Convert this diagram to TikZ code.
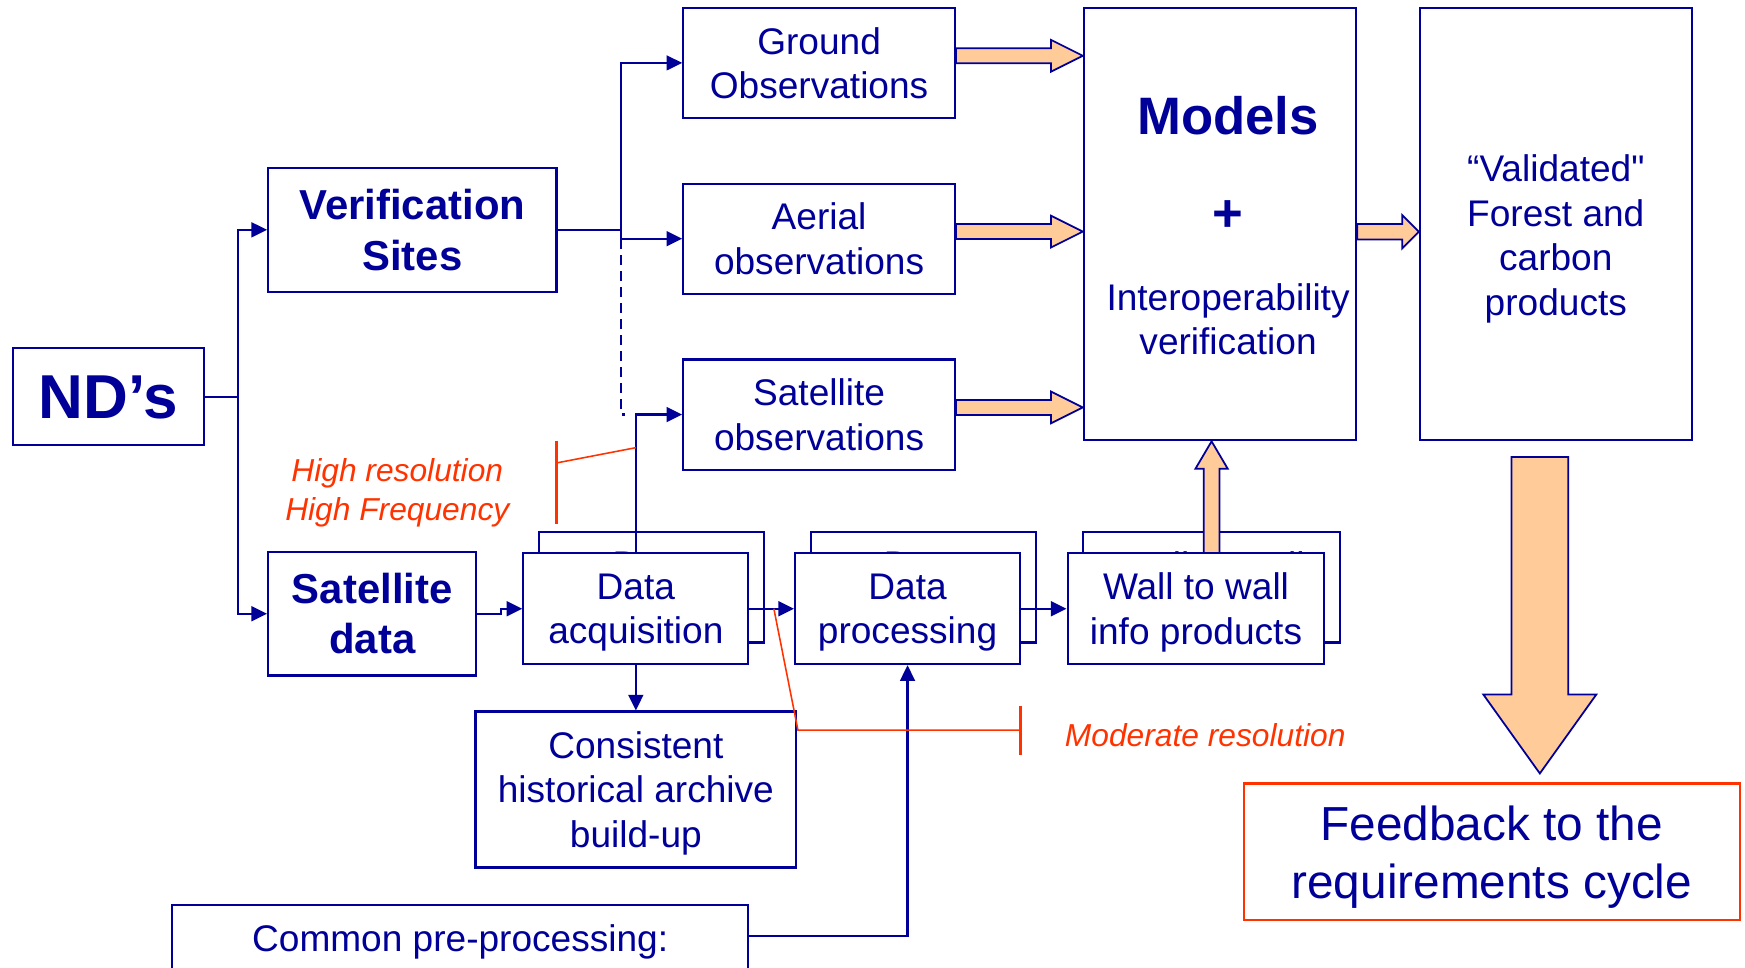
\documentclass[tikz,border=0pt]{standalone}
\usepackage{fontspec}
\setmainfont[Ligatures=TeXOff]{Liberation Sans}
\usepackage{xcolor}
\usepackage{tikz}
\usetikzlibrary{calc}
\usetikzlibrary{arrows.meta}
\definecolor{navy}{RGB}{0,0,153}
\definecolor{annot}{RGB}{255,51,0}
\definecolor{peach}{RGB}{255,204,153}
\tikzstyle{arrow} = [navy, line width=0.55pt, -{Triangle[length=4pt,width=3.8pt]}]
\tikzstyle{wire} = [navy, line width=0.55pt]
\tikzstyle{fat} = [draw=navy, fill=peach, line width=0.45pt, line join=miter]
\newcommand{\txtnormal}{\fontsize{9.47}{11.38}\selectfont}
\newcommand{\txtbold}{\fontsize{10.7}{12.8}\selectfont\bfseries}
\newcommand{\txtnd}{\fontsize{15.85}{19}\selectfont\bfseries}
\newcommand{\txtmodels}{\fontsize{13.46}{16}\selectfont\bfseries}
\newcommand{\txtnote}{\fontsize{8.11}{9.96}\selectfont\itshape}
\newcommand{\txtfeed}{\fontsize{12.2}{14.8}\selectfont}
% wide block arrow: tail, tip, half shaft, half head, head length
\newcommand{\fatarr}[5]{%
  \coordinate (hb) at ($(#2)!#5*0.01cm!(#1)$);
  \draw[fat] ($(#1)!#3*0.01cm!90:(#2)$) -- ($(hb)!#3*0.01cm!90:(#2)$) -- ($(hb)!#4*0.01cm!90:(#2)$)
    -- (#2) -- ($(hb)!#4*0.01cm!-90:(#2)$) -- ($(hb)!#3*0.01cm!-90:(#2)$) -- ($(#1)!#3*0.01cm!-90:(#2)$) -- cycle;
}
\begin{document}
\begin{tikzpicture}[x=0.01cm, y=-0.01cm,
				blk/.style= {draw=navy, line width=0.55pt, fill=white, text=navy, inner sep=0pt, align=center, text depth=0pt, font=\txtnormal},
				obsblk/.style= {blk, minimum width=2.44cm, minimum height=0.99cm},
				tallblk/.style= {blk, minimum width=2.445cm, minimum height=3.88cm},
				stackblk/.style= {blk, minimum width=2.02cm, minimum height=0.995cm},
				boxtext/.style= {text=navy, inner sep=0pt, align=center, font=\txtnormal},
				notetext/.style= {text=annot, inner sep=0pt, align=center, font=\txtnote},
				redbar/.style= {annot, line width=0.6pt},
				redline/.style= {annot, line width=0.4pt}
			]
			\useasboundingbox (0,0) rectangle (1568,869);
			\clip (0,0) rectangle (1568,869);
			
			\node (nds) [blk, font=\txtnd, minimum width=1.72cm, minimum height=0.87cm] at (97.5, 356.5) {ND’s};
			\node (verif) [blk, font=\txtbold, minimum width=2.59cm, minimum height=1.11cm] at (370.5, 206.5) {Verification\\Sites};
			\node (satdata) [blk, font=\txtbold, minimum width=1.87cm, minimum height=1.11cm] at (334.5, 551.5) {Satellite\\data};
			
			\node (ground) [obsblk] at (736, 56.5) {Ground\\Observations};
			\node (aerial) [obsblk] at (736, 214.5) {Aerial\\observations};
			\node (satobs) [obsblk] at (736, 372.5) {Satellite\\observations};
			
			\node (models) [tallblk] at (1096.25, 201.5) {};
			\node (modtitle) [boxtext, font=\txtmodels] at (1103.5, 103.5) {Models};
			\node (plus) [boxtext, font=\txtmodels] at (1103.5, 194.4) {+};
			\node (interop) [boxtext] at (1103.5, 287) {Interoperability\\verification};
			\node (valid) [tallblk] at (1398.25, 201.5) {};
			\node (validtext) [boxtext] at (1398, 214.5) {“Validated"\\Forest and\\carbon\\products};
			
			% stacked blocks, back copies first
			\node (dacqback) [stackblk] at (585.7, 527.6) {Data\\acquisition};
			\node (dprocback) [stackblk] at (829.5, 527.6) {Data\\processing};
			\node (wallback) [stackblk, minimum width=2.306cm] at (1088.7, 527.6) {Wall to wall\\info products};
			\coordinate (w1) at ($(wallback.north)+(0,20)$);
			\coordinate (w2) at (wallback.north |- models.south);
			\fatarr{w1}{w2}{7}{14.5}{24.6}
			\node (dacq) [stackblk] at (571.35, 547) {Data\\acquisition};
			\node (dproc) [stackblk] at (815.5, 547) {Data\\processing};
			\node (wall) [stackblk, minimum width=2.306cm] at (1074.7, 547) {Wall to wall\\info products};
			
			\node (archive) [blk, minimum width=2.88cm, minimum height=1.40cm] at (571.35, 709.4) {Consistent\\historical archive\\build-up};
			\node (common) [blk, anchor=north, minimum width=5.17cm, text height=0.42cm, text depth=0.4cm] at (413.5, 812) {Common pre-processing:};
			\node (feedback) [blk, draw=annot, font=\txtfeed, minimum width=4.45cm, minimum height=1.23cm] at (1340.5, 765.5) {Feedback to the\\requirements cycle};
			
			\draw [arrow] (nds.east) -- ++(29,0) |- (verif.west);
			\draw [arrow] (nds.east) -- ++(29,0) |- (satdata.west);
			
			\coordinate (vsplit) at ($(verif.east)+(57,0)$);
			\draw [wire] (verif.east) -- (vsplit);
			\draw [arrow] (vsplit) |- (ground.west);
			\draw [arrow] (vsplit) |- (aerial.west);
			\draw [wire, dash pattern=on 2.6pt off 1.5pt] (vsplit |- aerial.west) -- (vsplit |- satobs.west) -- ++(4,0);
			\draw [arrow] (dacq.north) |- (satobs.west);
			
			\draw [arrow] (satdata.east) -- ++(21,0) |- (dacq.west);
			\draw [arrow] (dacq.east) -- (dproc.west);
			\draw [arrow] (dproc.east) -- (wall.west);
			\draw [arrow] (dacq.south) -- (archive.north);
			\draw [arrow] ($(common.north east)+(0,29)$) -| (dproc.south);
			
			\coordinate (g1) at ($(ground.east)+(0,-6.4)$);
			\coordinate (g2) at (models.west |- g1);
			\fatarr{g1}{g2}{6.75}{14.25}{28.5}
			\coordinate (a1) at ($(aerial.east)+(0,-6.4)$);
			\coordinate (a2) at (models.west |- a1);
			\fatarr{a1}{a2}{6.75}{14.25}{28.5}
			\coordinate (s1) at ($(satobs.east)+(0,-6.4)$);
			\coordinate (s2) at (models.west |- s1);
			\fatarr{s1}{s2}{6.75}{14.25}{28.5}
			\coordinate (m1) at ($(models.east)+(0,6.7)$);
			\coordinate (m2) at (valid.west |- m1);
			\fatarr{m1}{m2}{6.9}{15}{15}
			\coordinate (f1) at ($(valid.south)+(-14.6,14)$);
			\coordinate (f2) at ($(f1 |- feedback.north)+(0,-8)$);
			\fatarr{f1}{f2}{25.5}{50.8}{71}
			
			% resolution notes
			\node (hires) [notetext] at (357, 442.5) {High resolution\\High Frequency};
			\coordinate (hibar) at (500, 416);
			\draw [redbar] ($(hibar)+(0,-20)$) -- ($(hibar)+(0,55)$);
			\draw [redline] (hibar) -- ($(dacq.north)+(0,-94)$);
			\node (modres) [notetext] at (1083, 661) {Moderate resolution};
			\coordinate (modbar) at (917, 656);
			\coordinate (modknee) at (717, 656);
			\draw [redbar] ($(modbar)+(0,-22)$) -- ($(modbar)+(0,22)$);
			\draw [redline] ($(dacq.east)+(22,0)$) -- (modknee) -- (modbar);
		\end{tikzpicture}
\end{document}
